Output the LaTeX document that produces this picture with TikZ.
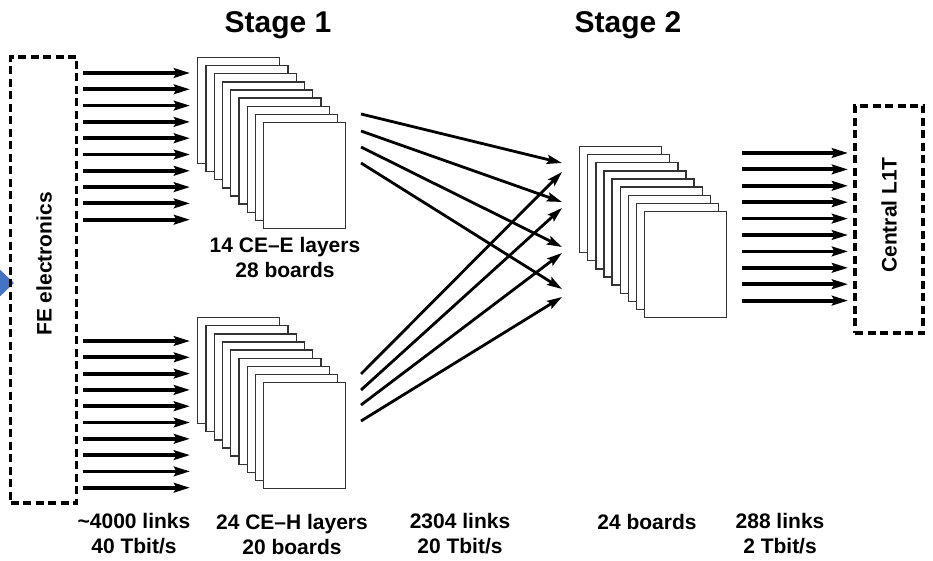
\documentclass[tikz,border=0pt]{standalone}
\usepackage{fontspec}
\setmainfont{Liberation Sans}
\usetikzlibrary{arrows.meta,calc}
\definecolor{inarrow}{HTML}{4472C4}
\begin{document}
\begin{tikzpicture}[x=1pt,y=-1pt,
  lbl/.style={font=\fontsize{21}{25}\selectfont\bfseries, align=center, inner sep=0pt},
  title/.style={font=\fontsize{30}{36}\selectfont\bfseries, inner sep=0pt, anchor=base},
  board/.style={draw=black!80, line width=1.3pt, fill=white, minimum width=82pt,
                minimum height=106pt, inner sep=0pt, anchor=north west},
  dashbox/.style={draw, line width=3.3pt, dash pattern=on 8pt off 4.5pt, inner sep=0pt},
  feed/.style={line width=3.8pt, -{Stealth[length=16pt,width=9.5pt,inset=2.5pt]}},
  link/.style={line width=2.8pt, -{Stealth[length=15pt,width=9pt,inset=2.5pt]}}
]
\useasboundingbox (0,0) rectangle (933,561);
\clip (0,0) rectangle (933,561);

% incoming arrow at the left edge
\fill[inarrow] (-8,262) -- (14,283) -- (-8,304) -- cycle;

% front-end electronics and central trigger
\node[dashbox, minimum width=66pt, minimum height=446pt] (fe) at (43.5,280) {};
\node[lbl, rotate=90] (fetxt) at (44,264) {FE electronics};
\node[dashbox, minimum width=68pt, minimum height=227pt] (l1t) at (889,219.5) {};
\node[lbl, rotate=90] (l1ttxt) at (889,215) {Central L1T};

% titles
\node[title] (st1) at (278,33) {Stage 1};
\node[title] (st2) at (628,33) {Stage 2};

% board stacks
\foreach \k in {0,...,8} {
  \node[board] (ee\k) at (197+8.25*\k, 57+8.1*\k) {};
  \node[board] (eh\k) at (197+8.25*\k, 317+8.1*\k) {};
  \node[board] (sb\k) at (579+8.1*\k, 146+8.1*\k) {};
}

% front-end links into stage 1
\foreach \k in {0,...,9} {
  \coordinate (fa\k) at (83, 73+16.3*\k);
  \coordinate (fb\k) at (190, 73+16.3*\k);
  \draw[feed] (fa\k) -- (fb\k);
  \coordinate (ga\k) at (83, 341+16.3*\k);
  \coordinate (gb\k) at (190, 341+16.3*\k);
  \draw[feed] (ga\k) -- (gb\k);
}

% stage 1 to stage 2 links
\coordinate (ts1) at (361,114); \coordinate (te1) at (562,163);
\coordinate (ts2) at (361,131); \coordinate (te2) at (562,202);
\coordinate (ts3) at (361,147); \coordinate (te3) at (562,247);
\coordinate (ts4) at (361,163); \coordinate (te4) at (562,289);
\coordinate (bs1) at (361,374); \coordinate (be1) at (562,172);
\coordinate (bs2) at (361,390); \coordinate (be2) at (562,208);
\coordinate (bs3) at (361,405); \coordinate (be3) at (562,253);
\coordinate (bs4) at (361,421); \coordinate (be4) at (562,297);
\foreach \k in {1,...,4} {
  \draw[link] (ts\k) -- (te\k);
  \draw[link] (bs\k) -- (be\k);
}

% stage 2 links to the central trigger
\foreach \k in {0,...,9} {
  \coordinate (ra\k) at (742, 153+16.4*\k);
  \coordinate (rb\k) at (848, 153+16.4*\k);
  \draw[feed] (ra\k) -- (rb\k);
}

% labels
\node[lbl] (eelbl) at (285,257.5) {14 CE–E layers\\28 boards};
\node[lbl] (fel) at (134,534) {\textasciitilde4000 links\\40 Tbit/s};
\node[lbl] (ehlbl) at (292,534) {24 CE–H layers\\20 boards};
\node[lbl] (midl) at (460,534) {2304 links\\20 Tbit/s};
\node[lbl] (sblbl) at (647,522) {24 boards};
\node[lbl] (outl) at (780,534) {288 links\\2 Tbit/s};
\end{tikzpicture}
\end{document}
